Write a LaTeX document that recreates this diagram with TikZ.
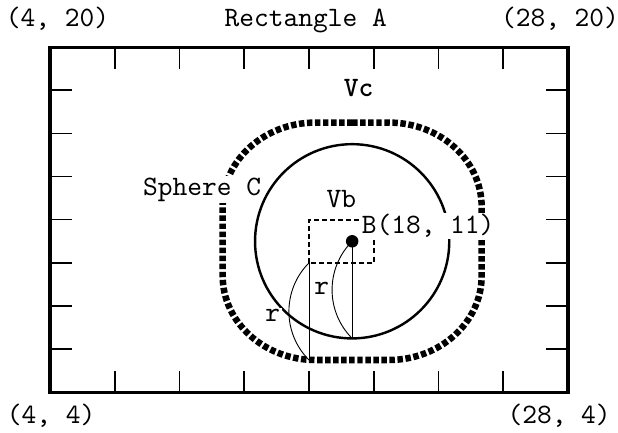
\documentclass[tikz,border=0pt]{standalone}
\usepackage{fontspec}
\setmainfont{lmmono10-regular.otf}[BoldFont=lmmonolt10-bold.otf]
\usepackage{tikz}
\tikzset{
        rectA/.style={line width=2pt},
        tickline/.style={line width=1pt},
        spherec/.style={line width=1.6pt},
        vbbox/.style={line width=1.5pt,dash pattern=on 3.3pt off 2pt},
        vcline/.style={line width=4.3pt,dash pattern=on 3.6pt off 1.7pt},
        radline/.style={line width=0.6pt},
        lbl/.style={fill=white,inner sep=1pt,font=\fontsize{18.5}{22}\selectfont},
}

\begin{document}
\begin{tikzpicture}[x=0.5cm,y=0.5cm]
        \useasboundingbox (1.683,2.145) rectangle (30.317,22.18);
        \coordinate (A1) at (4,4);
        \coordinate (A2) at (28,20);
        \coordinate (B) at (18,11);
        \coordinate (vbA) at (16,10);
        \coordinate (vbB) at (19,12);
        \coordinate (vcbot) at (16,5.5);
        \coordinate (cbot) at (18,6.5);

        % rectangle A with ticks
        \foreach \x in {7,10,...,25} {
                \draw[tickline] (\x,20) -- (\x,19);
                \draw[tickline] (\x,4) -- (\x,5);
        }
        \foreach \y in {6,8,...,18} {
                \draw[tickline] (4,\y) -- (5,\y);
                \draw[tickline] (28,\y) -- (27,\y);
        }
        \draw[rectA] (A1) rectangle (A2);

        % Vc
        \draw[vcline] (18,16.5) -- (19.7,16.5)
                arc[start angle=90,end angle=0,x radius=4.3,y radius=3.9] -- (24,9.4)
                arc[start angle=0,end angle=-90,x radius=4.3,y radius=3.9] -- (16.3,5.5)
                arc[start angle=270,end angle=180,x radius=4.3,y radius=3.9] -- (12,12.6)
                arc[start angle=180,end angle=90,x radius=4.3,y radius=3.9] -- cycle;
        \node[lbl,anchor=base] (sphC) at (11.05,13.14) {Sphere C};

        % sphere and Vb
        \draw[spherec] (B) circle[radius=4.5];
        \draw[vbbox] (vbA) rectangle (vbB);
        \fill (B) circle[radius=0.29];

        % radius marks
        \draw[radline] (vbA) -- (vcbot);
        \draw[radline] (vbA) to[bend right=45] (vcbot);
        \draw[radline] (B) -- (cbot);
        \draw[radline] (B) to[bend right=45] (cbot);

        \node[lbl,anchor=base] (tl) at (4.35,20.97) {(4, 20)};
        \node[lbl,anchor=base] (title) at (15.85,20.97) {Rectangle A};
        \node[lbl,anchor=base] (tr) at (27.63,20.97) {(28, 20)};
        \node[lbl,anchor=base] (bl) at (4.05,2.56) {(4, 4)};
        \node[lbl,anchor=base] (br) at (27.59,2.56) {(28, 4)};
        \node[lbl,anchor=base,font=\fontsize{18.5}{22}\selectfont\bfseries] (vc) at (18.3,17.73) {Vc};
        \node[lbl,anchor=base] (vb) at (17.5,12.58) {Vb};
        \node[lbl,anchor=base] (bpt) at (21.52,11.36) {B(18, 11)};
        \node[lbl] (r1) at (14.32,7.57) {r};
        \node[lbl] (r2) at (16.59,8.82) {r};
\end{tikzpicture}
\end{document}
